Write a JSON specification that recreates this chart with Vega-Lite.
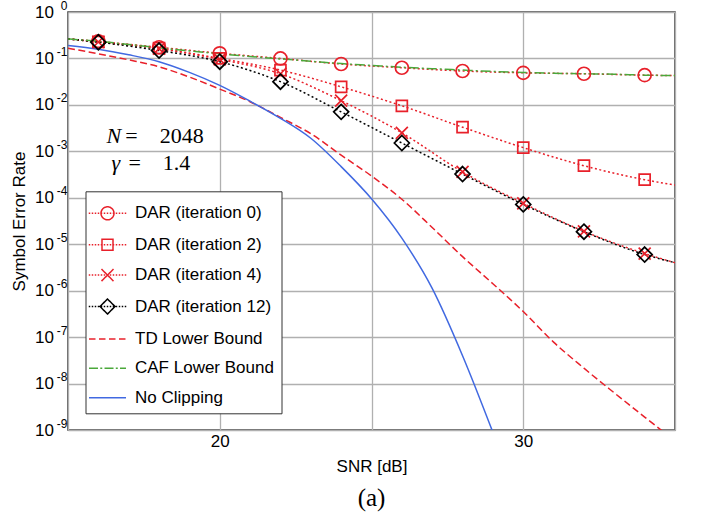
{
  "$schema": "https://vega.github.io/schema/vega-lite/v6.json",
  "width": 607,
  "height": 418,
  "autosize": {"type": "none"},
  "padding": {"left": 68, "top": 12, "right": 34, "bottom": 85},
  "background": "white",
  "title": {
    "text": "(a)",
    "orient": "bottom",
    "font": "Liberation Serif",
    "fontSize": 25,
    "fontWeight": "normal",
    "color": "black",
    "offset": 12
  },
  "config": {
    "font": "Liberation Sans",
    "view": {"stroke": "#3a3a3a", "strokeWidth": 1.5},
    "axis": {
      "domain": false,
      "ticks": false,
      "gridColor": "#b0b0b0",
      "gridWidth": 1.3,
      "labelFont": "Liberation Sans",
      "labelFontSize": 17,
      "labelColor": "black",
      "titleFont": "Liberation Sans",
      "titleFontSize": 17,
      "titleFontWeight": "normal",
      "titleColor": "black"
    }
  },
  "data": {
    "values": [
      {"series": "DAR (iteration 0)", "snr": 15, "ser": 0.263},
      {"series": "DAR (iteration 0)", "snr": 16, "ser": 0.232},
      {"series": "DAR (iteration 0)", "snr": 18, "ser": 0.174},
      {"series": "DAR (iteration 0)", "snr": 20, "ser": 0.129},
      {"series": "DAR (iteration 0)", "snr": 22, "ser": 0.1},
      {"series": "DAR (iteration 0)", "snr": 24, "ser": 0.0759},
      {"series": "DAR (iteration 0)", "snr": 26, "ser": 0.0631},
      {"series": "DAR (iteration 0)", "snr": 28, "ser": 0.0537},
      {"series": "DAR (iteration 0)", "snr": 30, "ser": 0.049},
      {"series": "DAR (iteration 0)", "snr": 32, "ser": 0.0468},
      {"series": "DAR (iteration 0)", "snr": 34, "ser": 0.0437},
      {"series": "DAR (iteration 0)", "snr": 35, "ser": 0.0427},

      {"series": "DAR (iteration 2)", "snr": 15, "ser": 0.263},
      {"series": "DAR (iteration 2)", "snr": 16, "ser": 0.228},
      {"series": "DAR (iteration 2)", "snr": 18, "ser": 0.166},
      {"series": "DAR (iteration 2)", "snr": 20, "ser": 0.1},
      {"series": "DAR (iteration 2)", "snr": 22, "ser": 0.0562},
      {"series": "DAR (iteration 2)", "snr": 24, "ser": 0.0245},
      {"series": "DAR (iteration 2)", "snr": 26, "ser": 0.00955},
      {"series": "DAR (iteration 2)", "snr": 28, "ser": 0.00331},
      {"series": "DAR (iteration 2)", "snr": 30, "ser": 0.0012},
      {"series": "DAR (iteration 2)", "snr": 32, "ser": 0.00049},
      {"series": "DAR (iteration 2)", "snr": 34, "ser": 0.000245},
      {"series": "DAR (iteration 2)", "snr": 35, "ser": 0.000188},

      {"series": "DAR (iteration 4)", "snr": 15, "ser": 0.263},
      {"series": "DAR (iteration 4)", "snr": 16, "ser": 0.226},
      {"series": "DAR (iteration 4)", "snr": 18, "ser": 0.162},
      {"series": "DAR (iteration 4)", "snr": 20, "ser": 0.0955},
      {"series": "DAR (iteration 4)", "snr": 22, "ser": 0.0468},
      {"series": "DAR (iteration 4)", "snr": 24, "ser": 0.0123},
      {"series": "DAR (iteration 4)", "snr": 26, "ser": 0.0025},
      {"series": "DAR (iteration 4)", "snr": 28, "ser": 0.00036},
      {"series": "DAR (iteration 4)", "snr": 30, "ser": 0.000076},
      {"series": "DAR (iteration 4)", "snr": 32, "ser": 0.000019},
      {"series": "DAR (iteration 4)", "snr": 34, "ser": 0.0000063},
      {"series": "DAR (iteration 4)", "snr": 35, "ser": 0.000004},

      {"series": "DAR (iteration 12)", "snr": 15, "ser": 0.263},
      {"series": "DAR (iteration 12)", "snr": 16, "ser": 0.224},
      {"series": "DAR (iteration 12)", "snr": 18, "ser": 0.148},
      {"series": "DAR (iteration 12)", "snr": 20, "ser": 0.0851},
      {"series": "DAR (iteration 12)", "snr": 22, "ser": 0.0316},
      {"series": "DAR (iteration 12)", "snr": 24, "ser": 0.00708},
      {"series": "DAR (iteration 12)", "snr": 26, "ser": 0.00151},
      {"series": "DAR (iteration 12)", "snr": 28, "ser": 0.000324},
      {"series": "DAR (iteration 12)", "snr": 30, "ser": 0.000072},
      {"series": "DAR (iteration 12)", "snr": 32, "ser": 0.0000186},
      {"series": "DAR (iteration 12)", "snr": 34, "ser": 0.000006},
      {"series": "DAR (iteration 12)", "snr": 35, "ser": 0.000004},

      {"series": "TD Lower Bound", "snr": 15, "ser": 0.166},
      {"series": "TD Lower Bound", "snr": 16, "ser": 0.126},
      {"series": "TD Lower Bound", "snr": 17, "ser": 0.0933},
      {"series": "TD Lower Bound", "snr": 18, "ser": 0.0661},
      {"series": "TD Lower Bound", "snr": 19, "ser": 0.0398},
      {"series": "TD Lower Bound", "snr": 20, "ser": 0.0219},
      {"series": "TD Lower Bound", "snr": 21, "ser": 0.0117},
      {"series": "TD Lower Bound", "snr": 22, "ser": 0.00537},
      {"series": "TD Lower Bound", "snr": 23, "ser": 0.0024},
      {"series": "TD Lower Bound", "snr": 24, "ser": 0.00083},
      {"series": "TD Lower Bound", "snr": 25, "ser": 0.000295},
      {"series": "TD Lower Bound", "snr": 26, "ser": 0.000093},
      {"series": "TD Lower Bound", "snr": 27, "ser": 0.0000229},
      {"series": "TD Lower Bound", "snr": 28, "ser": 0.0000054},
      {"series": "TD Lower Bound", "snr": 29, "ser": 0.00000141},
      {"series": "TD Lower Bound", "snr": 30, "ser": 0.000000355},
      {"series": "TD Lower Bound", "snr": 31, "ser": 0.000000078},
      {"series": "TD Lower Bound", "snr": 32, "ser": 0.0000000214},
      {"series": "TD Lower Bound", "snr": 33, "ser": 0.0000000063},
      {"series": "TD Lower Bound", "snr": 34, "ser": 0.0000000019},
      {"series": "TD Lower Bound", "snr": 35, "ser": 0.00000000058},

      {"series": "CAF Lower Bound", "snr": 15, "ser": 0.263},
      {"series": "CAF Lower Bound", "snr": 16, "ser": 0.234},
      {"series": "CAF Lower Bound", "snr": 17, "ser": 0.2},
      {"series": "CAF Lower Bound", "snr": 18, "ser": 0.17},
      {"series": "CAF Lower Bound", "snr": 19, "ser": 0.145},
      {"series": "CAF Lower Bound", "snr": 20, "ser": 0.126},
      {"series": "CAF Lower Bound", "snr": 21, "ser": 0.11},
      {"series": "CAF Lower Bound", "snr": 22, "ser": 0.0977},
      {"series": "CAF Lower Bound", "snr": 23, "ser": 0.0871},
      {"series": "CAF Lower Bound", "snr": 24, "ser": 0.0776},
      {"series": "CAF Lower Bound", "snr": 25, "ser": 0.0708},
      {"series": "CAF Lower Bound", "snr": 26, "ser": 0.0646},
      {"series": "CAF Lower Bound", "snr": 27, "ser": 0.0603},
      {"series": "CAF Lower Bound", "snr": 28, "ser": 0.0562},
      {"series": "CAF Lower Bound", "snr": 29, "ser": 0.0525},
      {"series": "CAF Lower Bound", "snr": 30, "ser": 0.0501},
      {"series": "CAF Lower Bound", "snr": 31, "ser": 0.0479},
      {"series": "CAF Lower Bound", "snr": 32, "ser": 0.0468},
      {"series": "CAF Lower Bound", "snr": 33, "ser": 0.0457},
      {"series": "CAF Lower Bound", "snr": 34, "ser": 0.0437},
      {"series": "CAF Lower Bound", "snr": 35, "ser": 0.0427},

      {"series": "No Clipping", "snr": 15, "ser": 0.191},
      {"series": "No Clipping", "snr": 16, "ser": 0.158},
      {"series": "No Clipping", "snr": 17, "ser": 0.12},
      {"series": "No Clipping", "snr": 18, "ser": 0.0851},
      {"series": "No Clipping", "snr": 19, "ser": 0.0501},
      {"series": "No Clipping", "snr": 20, "ser": 0.0263},
      {"series": "No Clipping", "snr": 21, "ser": 0.012},
      {"series": "No Clipping", "snr": 22, "ser": 0.00513},
      {"series": "No Clipping", "snr": 23, "ser": 0.00191},
      {"series": "No Clipping", "snr": 24, "ser": 0.000468},
      {"series": "No Clipping", "snr": 25, "ser": 0.000095},
      {"series": "No Clipping", "snr": 26, "ser": 0.0000135},
      {"series": "No Clipping", "snr": 27, "ser": 0.00000112},
      {"series": "No Clipping", "snr": 28, "ser": 0.0000000398},
      {"series": "No Clipping", "snr": 29, "ser": 0.00000000089}
    ]
  },
  "resolve": {"axis": {"y": "independent"}},
  "layer": [
    {
      "transform": [{"filter": "indexof(datum.series, 'DAR') == 0"}],
      "mark": {"type": "line", "clip": true, "strokeWidth": 1.5, "strokeDash": [2, 2.5], "interpolate": "monotone"},
      "encoding": {
        "x": {
          "field": "snr", "type": "quantitative",
          "scale": {"domain": [15, 35], "nice": false, "zero": false},
          "axis": {
            "title": "SNR [dB]",
            "grid": true,
            "values": [15, 20, 25, 30, 35],
            "labelExpr": "datum.value == 20 || datum.value == 30 ? datum.label : ''",
            "labelPadding": 3,
            "titlePadding": 9
          }
        },
        "y": {
          "field": "ser", "type": "quantitative",
          "scale": {"type": "log", "domain": [1e-9, 1], "nice": false},
          "axis": {
            "title": "Symbol Error Rate",
            "grid": true,
            "orient": "left",
            "values": [1e-9, 1e-8, 1e-7, 1e-6, 1e-5, 1e-4, 1e-3, 1e-2, 1e-1, 1],
            "labelExpr": "'10'",
            "labelPadding": 14.5,
            "titlePadding": 6
          }
        },
        "color": {
          "field": "series", "type": "nominal",
          "scale": {
            "domain": ["DAR (iteration 0)", "DAR (iteration 2)", "DAR (iteration 4)", "DAR (iteration 12)", "TD Lower Bound", "CAF Lower Bound", "No Clipping"],
            "range": ["#e8202a", "#e8202a", "#e8202a", "#000000", "#e8202a", "#4aa83a", "#4169e1"]
          },
          "legend": {
            "title": null,
            "orient": "none",
            "legendX": 17.5,
            "legendY": 179.3,
            "direction": "vertical",
            "fillColor": "white",
            "strokeColor": "#333333",
            "padding": 7,
            "rowPadding": 6.4,
            "symbolSize": 784,
            "symbolStrokeWidth": 1.5,
            "symbolOpacity": 1,
            "labelOffset": 12.5,
            "labelFont": "Liberation Sans",
            "labelFontSize": 17,
            "labelColor": "black",
            "labelLimit": 300,
            "encode": {
              "symbols": {
                "update": {
                  "fill": {"value": "transparent"},
                  "strokeWidth": {"value": 1.5},
                  "strokeDash": {"value": [1, 0]},
                  "shape": {
                    "signal": "datum.value == 'DAR (iteration 0)' ? 'M-1.34,0h0.107M-1.125,0h0.107M-0.911,0h0.107M-0.697,0h0.107M-0.483,0h0.107M-0.268,0h0.107M-0.054,0h0.107M0.16,0h0.107M0.375,0h0.107M0.589,0h0.107M0.803,0h0.107M1.017,0h0.107M1.232,0h0.107M0.464,0A0.464,0.464,0,1,1,-0.464,0A0.464,0.464,0,1,1,0.464,0Z' : datum.value == 'DAR (iteration 2)' ? 'M-1.34,0h0.107M-1.125,0h0.107M-0.911,0h0.107M-0.697,0h0.107M-0.483,0h0.107M-0.268,0h0.107M-0.054,0h0.107M0.16,0h0.107M0.375,0h0.107M0.589,0h0.107M0.803,0h0.107M1.017,0h0.107M1.232,0h0.107M-0.393,-0.393H0.393V0.393H-0.393Z' : datum.value == 'DAR (iteration 4)' ? 'M-1.34,0h0.107M-1.125,0h0.107M-0.911,0h0.107M-0.697,0h0.107M-0.483,0h0.107M-0.268,0h0.107M-0.054,0h0.107M0.16,0h0.107M0.375,0h0.107M0.589,0h0.107M0.803,0h0.107M1.017,0h0.107M1.232,0h0.107M-0.429,-0.429L0.429,0.429M-0.429,0.429L0.429,-0.429' : datum.value == 'DAR (iteration 12)' ? 'M-1.34,0h0.107M-1.125,0h0.107M-0.911,0h0.107M-0.697,0h0.107M-0.483,0h0.107M-0.268,0h0.107M-0.054,0h0.107M0.16,0h0.107M0.375,0h0.107M0.589,0h0.107M0.803,0h0.107M1.017,0h0.107M1.232,0h0.107M0,-0.536L0.536,0L0,0.536L-0.536,0Z' : datum.value == 'TD Lower Bound' ? 'M-1.321,0H-0.857M-0.607,0H-0.143M0.107,0H0.571M0.821,0H1.285' : datum.value == 'CAF Lower Bound' ? 'M-1.321,0H-0.678M-0.517,0H-0.374M-0.213,0H0.43M0.591,0H0.734M0.895,0H1.321' : 'M-1.321,0H1.321'"
                  }
                }
              }
            }
          }
        }
      }
    },
    {
      "transform": [{"filter": "datum.series == 'TD Lower Bound'"}],
      "mark": {"type": "line", "clip": true, "strokeWidth": 1.5, "strokeDash": [7, 3.5], "interpolate": "monotone"},
      "encoding": {
        "x": {"field": "snr", "type": "quantitative"},
        "y": {"field": "ser", "type": "quantitative", "axis": null},
        "color": {"field": "series", "type": "nominal", "legend": null}
      }
    },
    {
      "transform": [{"filter": "datum.series == 'CAF Lower Bound'"}],
      "mark": {"type": "line", "clip": true, "strokeWidth": 1.5, "strokeDash": [10, 3, 2, 3], "interpolate": "monotone"},
      "encoding": {
        "x": {"field": "snr", "type": "quantitative"},
        "y": {"field": "ser", "type": "quantitative", "axis": null},
        "color": {"field": "series", "type": "nominal", "legend": null}
      }
    },
    {
      "transform": [{"filter": "datum.series == 'No Clipping'"}],
      "mark": {"type": "line", "clip": true, "strokeWidth": 1.5, "interpolate": "monotone"},
      "encoding": {
        "x": {"field": "snr", "type": "quantitative"},
        "y": {"field": "ser", "type": "quantitative", "axis": null},
        "color": {"field": "series", "type": "nominal", "legend": null}
      }
    },
    {
      "transform": [
        {"filter": "indexof(datum.series, 'DAR') == 0 && datum.snr >= 16 && datum.snr <= 34"}
      ],
      "mark": {"type": "point", "filled": false, "opacity": 1, "size": 169, "strokeWidth": 1.7},
      "encoding": {
        "x": {"field": "snr", "type": "quantitative"},
        "y": {
          "field": "ser", "type": "quantitative",
          "axis": {
            "title": null,
            "orient": "left",
            "grid": false,
            "values": [1e-9, 1e-8, 1e-7, 1e-6, 1e-5, 1e-4, 1e-3, 1e-2, 1e-1, 1],
            "labelExpr": "'' + round(log(datum.value) / LN10)",
            "labelFontSize": 12,
            "labelPadding": 1,
            "labelOffset": -7
          }
        },
        "color": {"field": "series", "type": "nominal", "legend": null},
        "shape": {
          "field": "series", "type": "nominal",
          "scale": {
            "domain": ["DAR (iteration 0)", "DAR (iteration 2)", "DAR (iteration 4)", "DAR (iteration 12)"],
            "range": ["circle", "M-0.846,-0.846H0.846V0.846H-0.846Z", "M-0.923,-0.923L0.923,0.923M-0.923,0.923L0.923,-0.923", "M0,-1.154L1.154,0L0,1.154L-1.154,0Z"]
          },
          "legend": null
        }
      }
    },
    {
      "data": {
        "values": [
          {"snr": 16.75, "ser": 0.0015, "txt": "N"},
          {"snr": 16.72, "ser": 0.000394, "txt": "γ"}
        ]
      },
      "mark": {"type": "text", "align": "right", "baseline": "alphabetic", "font": "Liberation Serif", "fontStyle": "italic", "fontSize": 22, "color": "black"},
      "encoding": {
        "x": {"field": "snr", "type": "quantitative"},
        "y": {"field": "ser", "type": "quantitative", "axis": null},
        "text": {"field": "txt"}
      }
    },
    {
      "data": {
        "values": [
          {"snr": 16.89, "ser": 0.0015, "txt": "=\u20032048"},
          {"snr": 16.99, "ser": 0.000394, "txt": "=\u20031.4"}
        ]
      },
      "mark": {"type": "text", "align": "left", "baseline": "alphabetic", "font": "Liberation Serif", "fontSize": 22, "color": "black"},
      "encoding": {
        "x": {"field": "snr", "type": "quantitative"},
        "y": {"field": "ser", "type": "quantitative", "axis": null},
        "text": {"field": "txt"}
      }
    }
  ]
}
